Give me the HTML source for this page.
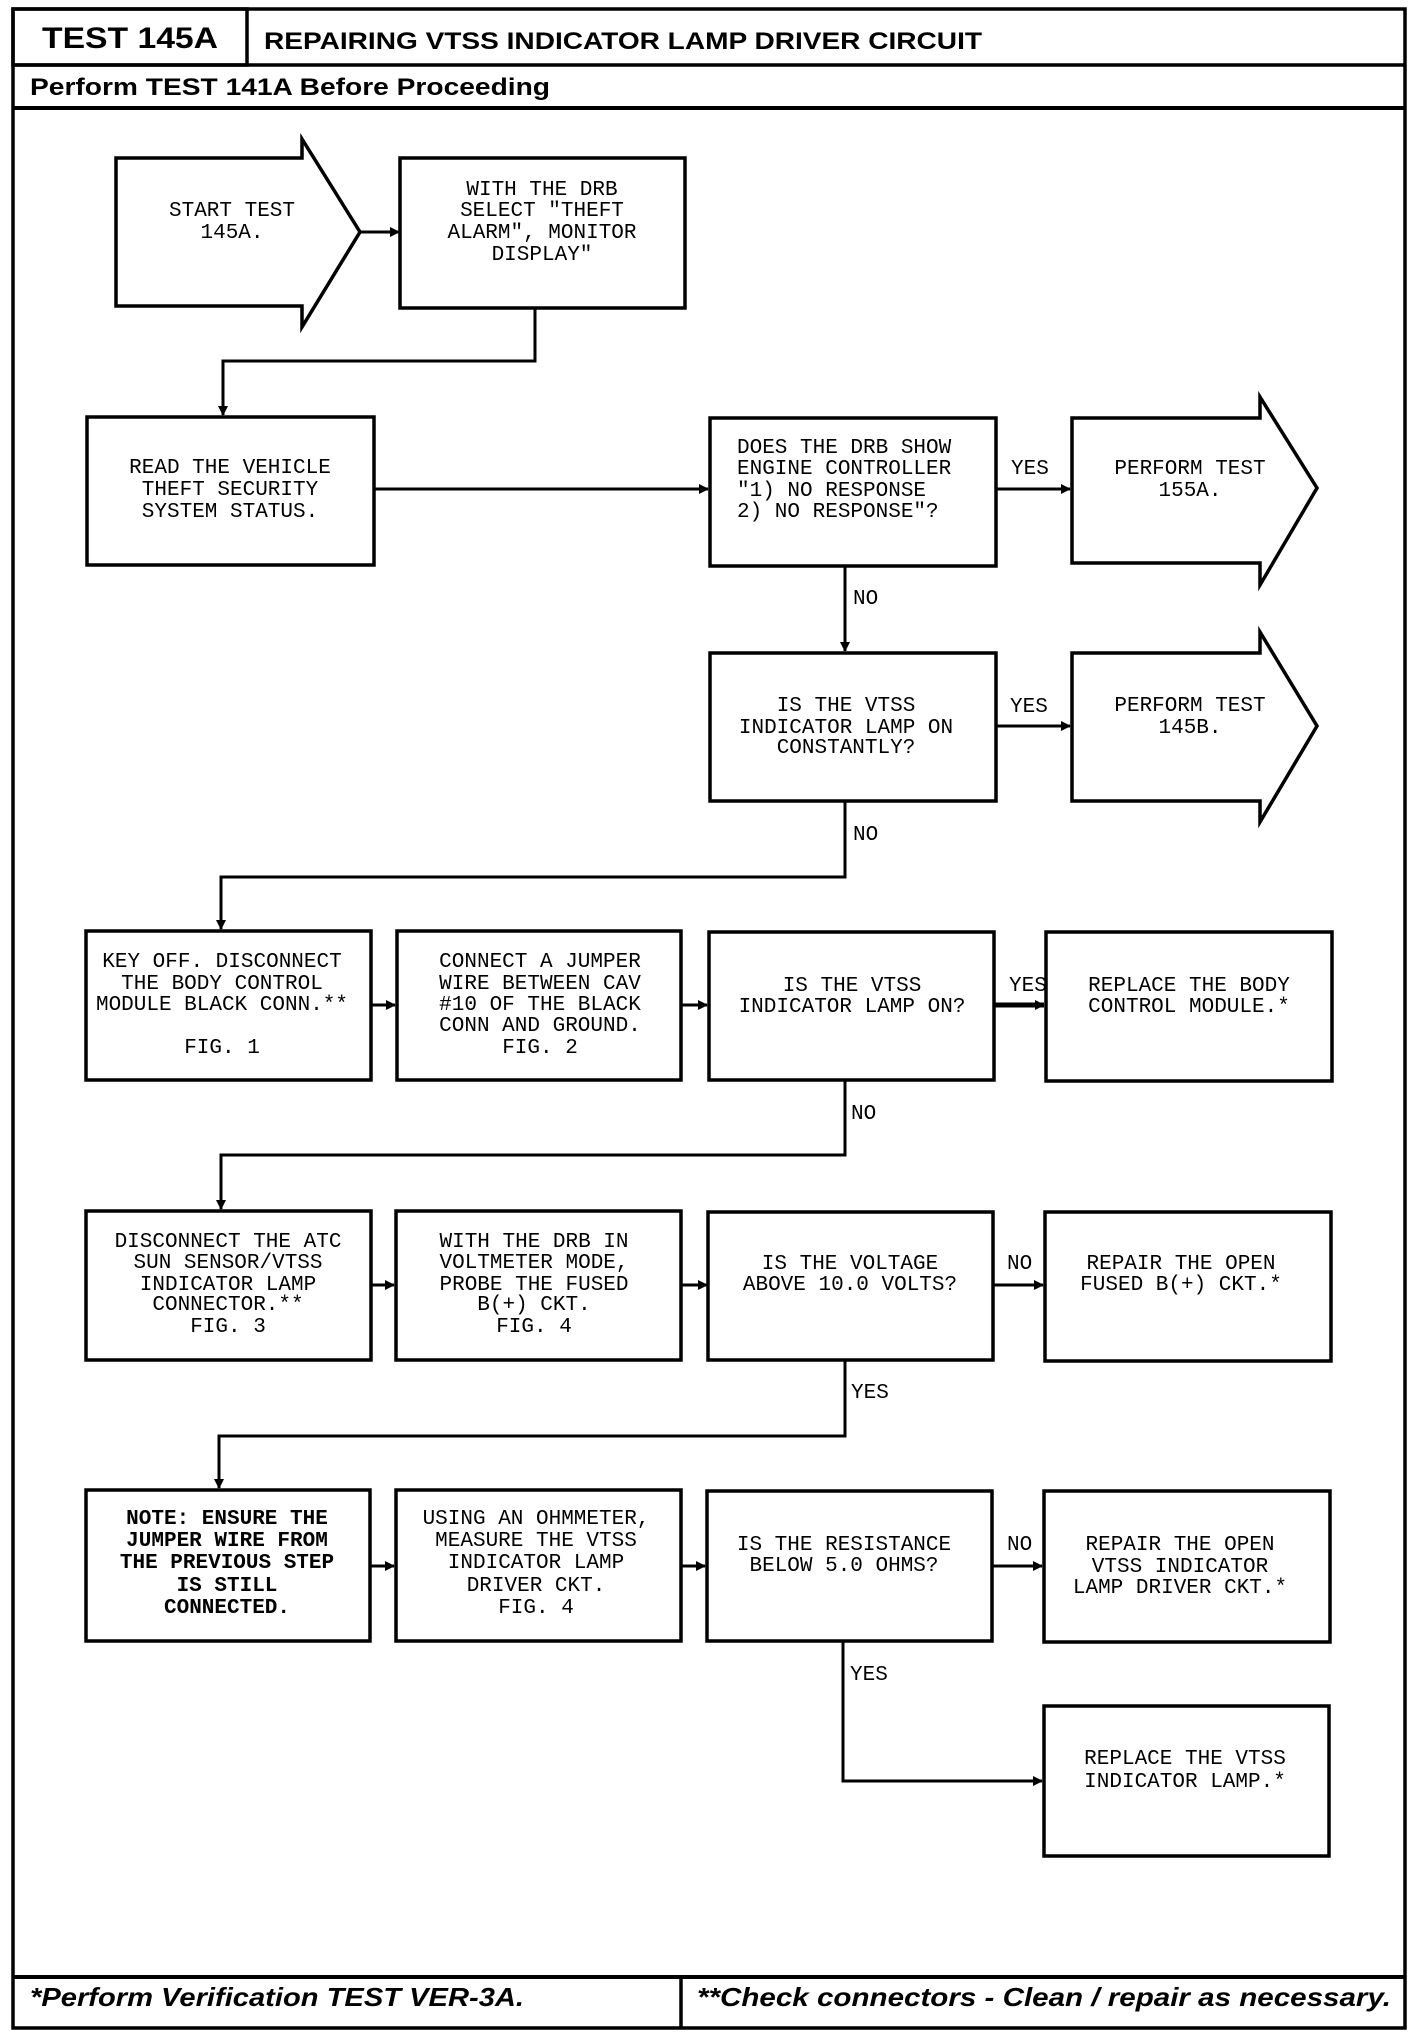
<!DOCTYPE html>
<html><head><meta charset="utf-8"><style>
html,body{margin:0;padding:0;background:#fff;}
svg{display:block;}
.m{font-family:"Liberation Mono",monospace;font-size:21px;fill:#000;}
.b{font-weight:bold;}
</style></head><body>
<svg width="1424" height="2032" viewBox="0 0 1424 2032" xmlns="http://www.w3.org/2000/svg">
<defs><marker id="a" markerWidth="10" markerHeight="10" refX="9" refY="5" orient="auto" markerUnits="userSpaceOnUse"><path d="M0,0 L10,5 L0,10 z" fill="#000"/></marker></defs>
<g fill="none" stroke="#000" stroke-width="3.5">
<rect x="13" y="9" width="1392" height="2019"/>
<rect x="13" y="9" width="234" height="56"/>
<line x1="13" y1="65" x2="1405" y2="65"/>
<line x1="13" y1="108" x2="1405" y2="108" stroke-width="4"/>
<line x1="13" y1="1977" x2="1405" y2="1977" stroke-width="4"/>
<line x1="681" y1="1977" x2="681" y2="2028"/>
<!-- start arrow -->
<path d="M116,158 H302 V139 L360,232 L302,327 V306 H116 Z"/>
<rect x="400" y="158" width="285" height="150"/>
<rect x="87" y="417" width="287" height="148"/>
<rect x="710" y="418" width="286" height="148"/>
<path d="M1072,418 H1260 V397 L1317,488 L1260,585 V563 H1072 Z"/>
<rect x="710" y="653" width="286" height="148"/>
<path d="M1072,653 H1260 V632 L1317,726 L1260,822 V801 H1072 Z"/>
<rect x="86" y="931" width="285" height="149"/>
<rect x="397" y="931" width="284" height="149"/>
<rect x="709" y="932" width="285" height="148"/>
<rect x="1046" y="932" width="286" height="149"/>
<rect x="86" y="1211" width="285" height="149"/>
<rect x="396" y="1211" width="285" height="149"/>
<rect x="708" y="1212" width="285" height="148"/>
<rect x="1045" y="1212" width="286" height="149"/>
<rect x="86" y="1490" width="284" height="151"/>
<rect x="396" y="1490" width="285" height="151"/>
<rect x="707" y="1491" width="285" height="150"/>
<rect x="1044" y="1491" width="286" height="151"/>
<rect x="1044" y="1706" width="285" height="150"/>
</g>
<g fill="none" stroke="#000" stroke-width="3" marker-end="url(#a)">
<line x1="360" y1="232" x2="399" y2="232"/>
<polyline points="535,308 535,361 223,361 223,415"/>
<line x1="374" y1="489" x2="708" y2="489"/>
<line x1="996" y1="489" x2="1070" y2="489"/>
<line x1="845" y1="566" x2="845" y2="651"/>
<line x1="996" y1="726" x2="1070" y2="726"/>
<polyline points="845,801 845,877 221,877 221,929"/>
<line x1="371" y1="1005" x2="395" y2="1005"/>
<line x1="681" y1="1005" x2="707" y2="1005"/>
<line x1="994" y1="1005" x2="1044" y2="1005" stroke-width="5"/>
<polyline points="845,1080 845,1155 221,1155 221,1209"/>
<line x1="371" y1="1285" x2="394" y2="1285"/>
<line x1="681" y1="1285" x2="707" y2="1285"/>
<line x1="994" y1="1285" x2="1043" y2="1285"/>
<polyline points="845,1360 845,1436 219,1436 219,1488"/>
<line x1="370" y1="1566" x2="394" y2="1566"/>
<line x1="681" y1="1566" x2="705" y2="1566"/>
<line x1="992" y1="1566" x2="1042" y2="1566"/>
<polyline points="843,1641 843,1781 1042,1781"/>
</g>
<g font-family="Liberation Sans,sans-serif" font-weight="bold">
<text x="42" y="48" font-size="30" textLength="176" lengthAdjust="spacingAndGlyphs">TEST 145A</text>
<text x="264" y="49" font-size="24" textLength="718" lengthAdjust="spacingAndGlyphs">REPAIRING VTSS INDICATOR LAMP DRIVER CIRCUIT</text>
<text x="30" y="95" font-size="24" textLength="520" lengthAdjust="spacingAndGlyphs">Perform TEST 141A Before Proceeding</text>
<text x="30" y="2006" font-size="26" font-style="italic" textLength="494" lengthAdjust="spacingAndGlyphs">*Perform Verification TEST VER-3A.</text>
<text x="697" y="2006" font-size="26" font-style="italic" textLength="694" lengthAdjust="spacingAndGlyphs">**Check connectors - Clean / repair as necessary.</text>
</g>
<g class="m" text-anchor="middle">
<text x="232" y="216">START TEST</text><text x="232" y="238">145A.</text>
<text x="542" y="195">WITH THE DRB</text><text x="542" y="216">SELECT "THEFT</text><text x="542" y="238">ALARM", MONITOR</text><text x="542" y="260">DISPLAY"</text>
<text x="230" y="473">READ THE VEHICLE</text><text x="230" y="495">THEFT SECURITY</text><text x="230" y="517">SYSTEM STATUS.</text>
<text x="1190" y="474">PERFORM TEST</text><text x="1190" y="496">155A.</text>
<text x="846" y="711">IS THE VTSS</text><text x="846" y="733">INDICATOR LAMP ON</text><text x="846" y="753">CONSTANTLY?</text>
<text x="1190" y="711">PERFORM TEST</text><text x="1190" y="733">145B.</text>
<text x="222" y="967">KEY OFF. DISCONNECT</text><text x="222" y="989">THE BODY CONTROL</text><text x="222" y="1010">MODULE BLACK CONN.**</text><text x="222" y="1053">FIG. 1</text>
<text x="540" y="967">CONNECT A JUMPER</text><text x="540" y="989">WIRE BETWEEN CAV</text><text x="540" y="1010">#10 OF THE BLACK</text><text x="540" y="1031">CONN AND GROUND.</text><text x="540" y="1053">FIG. 2</text>
<text x="852" y="991">IS THE VTSS</text><text x="852" y="1012">INDICATOR LAMP ON?</text>
<text x="1189" y="991">REPLACE THE BODY</text><text x="1189" y="1012">CONTROL MODULE.*</text>
<text x="228" y="1247">DISCONNECT THE ATC</text><text x="228" y="1268">SUN SENSOR/VTSS</text><text x="228" y="1290">INDICATOR LAMP</text><text x="228" y="1310">CONNECTOR.**</text><text x="228" y="1332">FIG. 3</text>
<text x="534" y="1247">WITH THE DRB IN</text><text x="534" y="1268">VOLTMETER MODE,</text><text x="534" y="1290">PROBE THE FUSED</text><text x="534" y="1310">B(+) CKT.</text><text x="534" y="1332">FIG. 4</text>
<text x="850" y="1269">IS THE VOLTAGE</text><text x="850" y="1290">ABOVE 10.0 VOLTS?</text>
<text x="1181" y="1269">REPAIR THE OPEN</text><text x="1181" y="1290">FUSED B(+) CKT.*</text>
<g class="b"><text x="227" y="1524">NOTE: ENSURE THE</text><text x="227" y="1546">JUMPER WIRE FROM</text><text x="227" y="1568">THE PREVIOUS STEP</text><text x="227" y="1591">IS STILL</text><text x="227" y="1613">CONNECTED.</text></g>
<text x="536" y="1524">USING AN OHMMETER,</text><text x="536" y="1546">MEASURE THE VTSS</text><text x="536" y="1568">INDICATOR LAMP</text><text x="536" y="1591">DRIVER CKT.</text><text x="536" y="1613">FIG. 4</text>
<text x="844" y="1550">IS THE RESISTANCE</text><text x="844" y="1571">BELOW 5.0 OHMS?</text>
<text x="1180" y="1550">REPAIR THE OPEN</text><text x="1180" y="1572">VTSS INDICATOR</text><text x="1180" y="1593">LAMP DRIVER CKT.*</text>
<text x="1185" y="1764">REPLACE THE VTSS</text><text x="1185" y="1787">INDICATOR LAMP.*</text>
</g>
<g class="m" xml:space="preserve">
<text x="737" y="453">DOES THE DRB SHOW</text><text x="737" y="474">ENGINE CONTROLLER</text><text x="737" y="496">"1) NO RESPONSE</text><text x="737" y="517"> 2) NO RESPONSE"?</text>
</g>
<g class="m">
<text x="1011" y="474">YES</text>
<text x="853" y="604">NO</text>
<text x="1010" y="712">YES</text>
<text x="853" y="840">NO</text>
<text x="1009" y="991">YES</text>
<text x="851" y="1119">NO</text>
<text x="1007" y="1269">NO</text>
<text x="851" y="1398">YES</text>
<text x="1007" y="1550">NO</text>
<text x="850" y="1680">YES</text>
</g>
</svg>
</body></html>
